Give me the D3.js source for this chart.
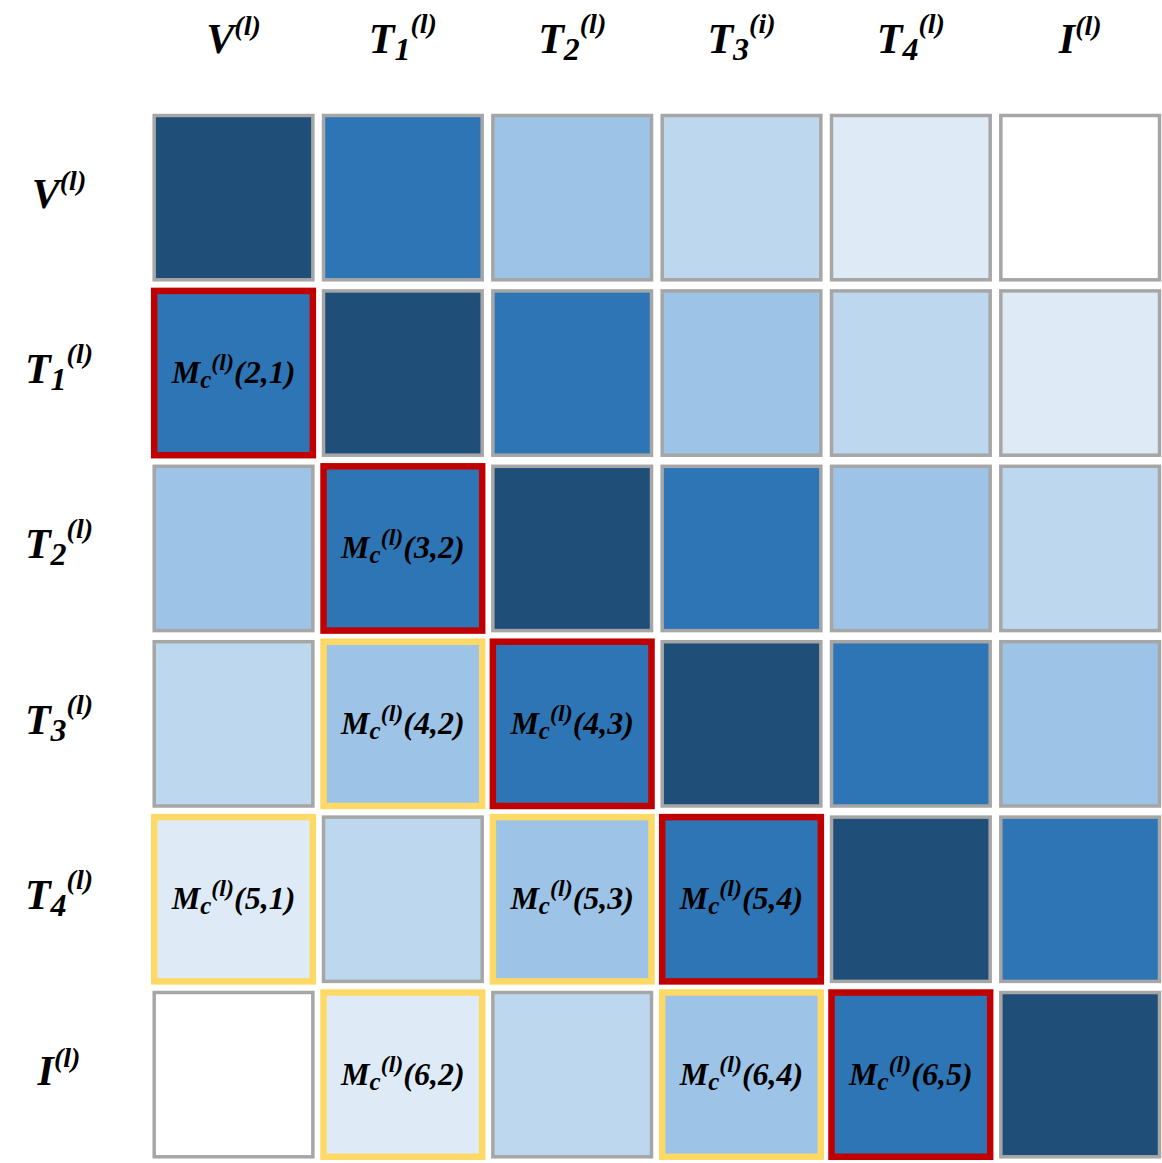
<!DOCTYPE html>
<html>
<head>
<meta charset="utf-8">
<script src="https://cdn.jsdelivr.net/npm/d3@7"></script>
<style>
  html, body { margin: 0; padding: 0; background: #fff; }
  text { font-family: "Liberation Serif", "Times New Roman", serif; font-weight: bold; font-style: italic; fill: #000; }
</style>
</head>
<body>
<svg id="chart" width="1162" height="1163"></svg>
<script>
// axis labels: [base, subscript, superscript]
const colLabels = [["V", "", "(l)"], ["T", "1", "(l)"], ["T", "2", "(l)"], ["T", "3", "(i)"], ["T", "4", "(l)"], ["I", "", "(l)"]];
const rowLabels = [["V", "", "(l)"], ["T", "1", "(l)"], ["T", "2", "(l)"], ["T", "3", "(l)"], ["T", "4", "(l)"], ["I", "", "(l)"]];

// shade level of each cell (0 = darkest, 5 = white)
const shade = [
  [0, 1, 2, 3, 4, 5],
  [1, 0, 1, 2, 3, 4],
  [2, 1, 0, 1, 2, 3],
  [3, 2, 1, 0, 1, 2],
  [4, 3, 2, 1, 0, 1],
  [5, 4, 3, 2, 1, 0]
];
const palette = ["#1f4e79", "#2e75b6", "#9dc3e6", "#bdd7ee", "#deebf7", "#ffffff"];

// highlighted cells, 1-based [row, col]
const redCells = [[2, 1], [3, 2], [4, 3], [5, 4], [6, 5]];
const yellowCells = [[4, 2], [5, 1], [5, 3], [6, 2], [6, 4]];

const svg = d3.select("#chart");

let idx = d3.range(6);
let x = d3.scaleBand().domain(idx).range([154.2, 1159.5]).paddingInner(0.063).paddingOuter(0);
let y = d3.scaleBand().domain(idx).range([115.5, 1156.8]).paddingInner(0.0633).paddingOuter(0);

let cells = [];
shade.forEach(function (row, i) {
  row.forEach(function (s, j) {
    let mark = "none";
    if (redCells.some(c => c[0] == i + 1 && c[1] == j + 1)) mark = "red";
    if (yellowCells.some(c => c[0] == i + 1 && c[1] == j + 1)) mark = "yellow";
    cells.push({r: i, c: j, s: s, mark: mark});
  });
});

// grey ones first so the coloured frames sit on top
cells.sort((a, b) => (a.mark == "none" ? 0 : 1) - (b.mark == "none" ? 0 : 1));

const strokeOf = {none: "#a6a6a6", red: "#c00000", yellow: "#ffd966"};
const widthOf = {none: 3.5, red: 6.5, yellow: 6.5};

let g = svg.append("g");

g.selectAll("rect")
  .data(cells)
  .enter().append("rect")
  .attr("x", d => x(d.c))
  .attr("y", d => y(d.r))
  .attr("width", x.bandwidth())
  .attr("height", y.bandwidth())
  .attr("fill", d => palette[d.s])
  .attr("stroke", d => strokeOf[d.mark])
  .attr("stroke-width", d => widthOf[d.mark]);

// M_c^(l)(i,j) labels on highlighted cells
let lbl = g.selectAll("text.cell")
  .data(cells.filter(d => d.mark != "none"))
  .enter().append("text")
  .attr("class", "cell")
  .attr("x", d => x(d.c) + x.bandwidth() / 2)
  .attr("y", d => y(d.r) + y.bandwidth() / 2 + 10)
  .attr("text-anchor", "middle")
  .attr("font-size", "32px");

lbl.append("tspan").text("M");
lbl.append("tspan").attr("font-size", "25px").attr("dy", 5).text("c");
lbl.append("tspan").attr("font-size", "24px").attr("dy", -18).text("(l)");
lbl.append("tspan").attr("dy", 13).text(d => "(" + (d.r + 1) + "," + (d.c + 1) + ")");

function drawLabel(sel, l) {
  sel.append("tspan").text(l[0]);
  if (l[1]) {
    sel.append("tspan").attr("font-size", "32px").attr("dy", 7).text(l[1]);
    sel.append("tspan").attr("font-size", "28px").attr("dy", -27).text(l[2]);
  } else {
    sel.append("tspan").attr("font-size", "28px").attr("dy", -18).text(l[2]);
  }
}

let heads = svg.append("g");
colLabels.forEach(function (l, j) {
  let t = heads.append("text")
    .attr("x", x(j) + x.bandwidth() / 2)
    .attr("y", 53)
    .attr("text-anchor", "middle")
    .attr("font-size", "42px");
  drawLabel(t, l);
});

rowLabels.forEach(function (l, i) {
  let t = heads.append("text")
    .attr("x", 59)
    .attr("y", y(i) + y.bandwidth() / 2 + 10)
    .attr("text-anchor", "middle")
    .attr("font-size", "42px");
  drawLabel(t, l);
});
</script>
</body>
</html>
